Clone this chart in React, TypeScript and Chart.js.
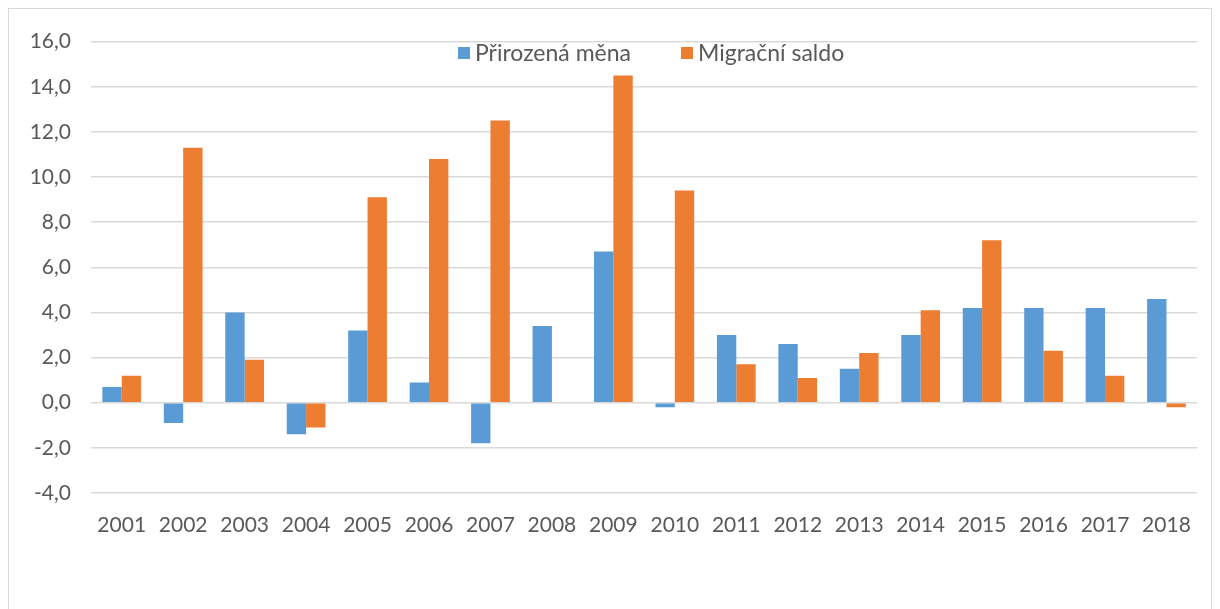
import React, { useEffect, useRef } from "react";
import { Chart, registerables } from "chart.js";

Chart.register(...registerables);

const years = ["2001","2002","2003","2004","2005","2006","2007","2008","2009","2010","2011","2012","2013","2014","2015","2016","2017","2018"];
const prirozenaMena = [0.7, -0.9, 4.0, -1.4, 3.2, 0.9, -1.8, 3.4, 6.7, -0.2, 3.0, 2.6, 1.5, 3.0, 4.2, 4.2, 4.2, 4.6];
const migracniSaldo = [1.2, 11.3, 1.9, -1.1, 9.1, 10.8, 12.5, 0.0, 14.5, 9.4, 1.7, 1.1, 2.2, 4.1, 7.2, 2.3, 1.2, -0.2];
const seriesNames = ["Přirozená měna", "Migrační saldo"];
const seriesColors = ["#5B9BD5", "#ED7D31"];
const yMin = -4;
const yMax = 16;
const yStep = 2;

const FONT = "Lato, 'Open Sans', sans-serif";
const TEXT = "#595959";

const legendPlugin = {
  id: "insideLegend",
  afterDraw(chart: any) {
    const ctx = chart.ctx;
    const area = chart.chartArea;
    ctx.save();
    ctx.font = `23px ${FONT}`;
    const box = 12;
    const gapBoxText = 5;
    const gapItems = 50;
    const widths = seriesNames.map((n) => ctx.measureText(n).width);
    const total = widths.reduce((a, w) => a + box + gapBoxText + w, 0) + gapItems * (seriesNames.length - 1);
    let x = (area.left + area.right) / 2 + 7 - total / 2;
    const y = 45;
    seriesNames.forEach((n, i) => {
      ctx.fillStyle = seriesColors[i];
      ctx.fillRect(x, y - box / 2 - 1, box, box);
      x += box + gapBoxText;
      ctx.fillStyle = TEXT;
      ctx.textBaseline = "middle";
      ctx.textAlign = "left";
      ctx.fillText(n, x, y);
      x += widths[i] + gapItems;
    });
    ctx.restore();
  },
};

export default function App() {
  const ref = useRef<HTMLCanvasElement>(null);
  useEffect(() => {
    if (!ref.current) return;
    const chart = new Chart(ref.current, {
      type: "bar",
      data: {
        labels: years,
        datasets: [
          { label: seriesNames[0], data: prirozenaMena, backgroundColor: seriesColors[0], categoryPercentage: 0.63, barPercentage: 1 },
          { label: seriesNames[1], data: migracniSaldo, backgroundColor: seriesColors[1], categoryPercentage: 0.63, barPercentage: 1 },
        ],
      },
      options: {
        responsive: false,
        animation: false,
        maintainAspectRatio: false,
        layout: { padding: { left: 0, right: 6, top: 28, bottom: 0 } },
        plugins: { legend: { display: false }, tooltip: { enabled: false } },
        scales: {
          x: {
            grid: { display: false, drawTicks: false },
            border: { display: false },
            ticks: { color: TEXT, font: { family: FONT, size: 21 }, padding: 20, maxRotation: 0 },
            afterFit: (s: any) => { s.height = 124; },
          },
          y: {
            min: yMin,
            max: yMax,
            grid: { color: "#d9d9d9", lineWidth: 1.5, drawTicks: false },
            border: { display: false },
            ticks: {
              stepSize: yStep,
              color: TEXT,
              font: { family: FONT, size: 21 },
              padding: 20,
              callback: (v: any) => Number(v).toFixed(1).replace(".", ","),
            },
            afterFit: (s: any) => { s.width = 82; },
          },
        },
      },
      plugins: [legendPlugin],
    });
    return () => chart.destroy();
  }, []);
  return (
    <div style={{ width: 1204, height: 610, border: "1px solid #d9d9d9", boxSizing: "border-box", position: "relative", background: "#fff" }}>
      <canvas ref={ref} width={1202} height={608} style={{ display: "block" }} />
    </div>
  );
}
